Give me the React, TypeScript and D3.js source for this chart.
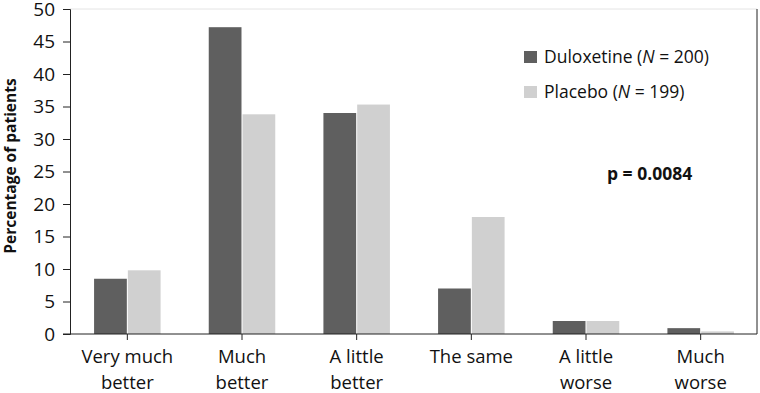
import React, { useEffect, useRef } from "react";
import * as d3 from "d3";

const categories = [
  ["Very much", "better"],
  ["Much", "better"],
  ["A little", "better"],
  ["The same"],
  ["A little", "worse"],
  ["Much", "worse"],
];
const duloxetine = [8.5, 47.2, 34.0, 7.0, 2.0, 0.9];
const placebo = [9.8, 33.8, 35.3, 18.0, 2.0, 0.4];
const yTicks = [0, 5, 10, 15, 20, 25, 30, 35, 40, 45, 50];
const seriesNames = ["Duloxetine", "Placebo"];
const seriesN = ["200", "199"];
const colors = ["#5f5f5f", "#d0d0d0"];

const App = () => {
  const svgRef = useRef<SVGSVGElement>(null);
  const width = 760;
  const height = 393;

  useEffect(() => {
    const svg = d3.select(svgRef.current);
    svg.selectAll("*").remove();
    const font = "'Open Sans', 'Liberation Sans', sans-serif";

    const left = 70, right = 757, top = 9, bottom = 334;
    const keys = categories.map((_, i) => String(i));
    const x = d3.scaleBand().domain(keys).range([left, right + 1]).paddingInner(0.42).paddingOuter(0.21);
    const x1 = d3.scaleBand().domain(["0", "1"]).range([0, x.bandwidth()]).paddingInner(0.03);
    const y = d3.scaleLinear().domain([0, 50]).range([bottom, top]);

    // frame
    svg.append("line").attr("x1", left).attr("x2", right).attr("y1", top).attr("y2", top)
      .attr("stroke", "#e4e4e4");
    svg.append("line").attr("x1", right).attr("x2", right).attr("y1", top).attr("y2", bottom)
      .attr("stroke", "#222");

    const data = [duloxetine, placebo];
    data.forEach((vals, s) => {
      svg.append("g").selectAll("rect").data(vals).join("rect")
        .attr("x", (_, i) => (x(String(i)) as number) + (x1(String(s)) as number))
        .attr("width", x1.bandwidth())
        .attr("y", (d) => y(d))
        .attr("height", (d) => y(0) - y(d))
        .attr("fill", colors[s]);
    });

    // y axis
    const yAxis = d3.axisLeft(y).tickValues(yTicks).tickSize(7).tickPadding(8);
    const gy = svg.append("g").attr("transform", `translate(${left},0)`).call(yAxis);
    gy.select(".domain").attr("stroke", "#222");
    gy.selectAll(".tick line").attr("stroke", "#222");
    gy.selectAll("text").attr("font-family", font).attr("font-size", 19).attr("fill", "#111");

    // x axis
    svg.append("line").attr("x1", left - 7).attr("x2", right).attr("y1", bottom).attr("y2", bottom)
      .attr("stroke", "#222");
    const gx = svg.append("g");
    keys.forEach((k, i) => {
      const cx = (x(k) as number) + x.bandwidth() / 2;
      gx.append("line").attr("x1", cx).attr("x2", cx).attr("y1", bottom).attr("y2", bottom + 6)
        .attr("stroke", "#222");
      categories[i].forEach((line, j) => {
        gx.append("text").attr("x", cx).attr("y", 363 + j * 25.5).attr("text-anchor", "middle")
          .attr("font-family", font).attr("font-size", 18.5).attr("fill", "#111")
          .text(line);
      });
    });

    // y label
    svg.append("text")
      .attr("transform", `translate(16,166) rotate(-90)`)
      .attr("text-anchor", "middle")
      .attr("font-family", font).attr("font-size", 15.5).attr("font-weight", "bold").attr("fill", "#111")
      .text("Percentage of patients");

    // legend
    seriesNames.forEach((name, s) => {
      const ly = 57 + s * 35;
      svg.append("rect").attr("x", 524).attr("y", ly - 6).attr("width", 13).attr("height", 12)
        .attr("fill", colors[s]);
      const t = svg.append("text").attr("x", 544).attr("y", ly + 6)
        .attr("font-family", font).attr("font-size", 17.5).attr("fill", "#111");
      t.append("tspan").text(`${name} (`);
      t.append("tspan").attr("font-style", "italic").text("N");
      t.append("tspan").text(` = ${seriesN[s]})`);
    });

    svg.append("text").attr("x", 607).attr("y", 180)
      .attr("font-family", font).attr("font-size", 17.5).attr("font-weight", "bold").attr("fill", "#111")
      .text("p = 0.0084");
  }, []);

  return (
    <div style={{ position: "absolute", left: 0, top: 0 }}>
      <svg ref={svgRef} width={width} height={height} style={{ display: "block", background: "#fff" }} />
    </div>
  );
};

export default App;
